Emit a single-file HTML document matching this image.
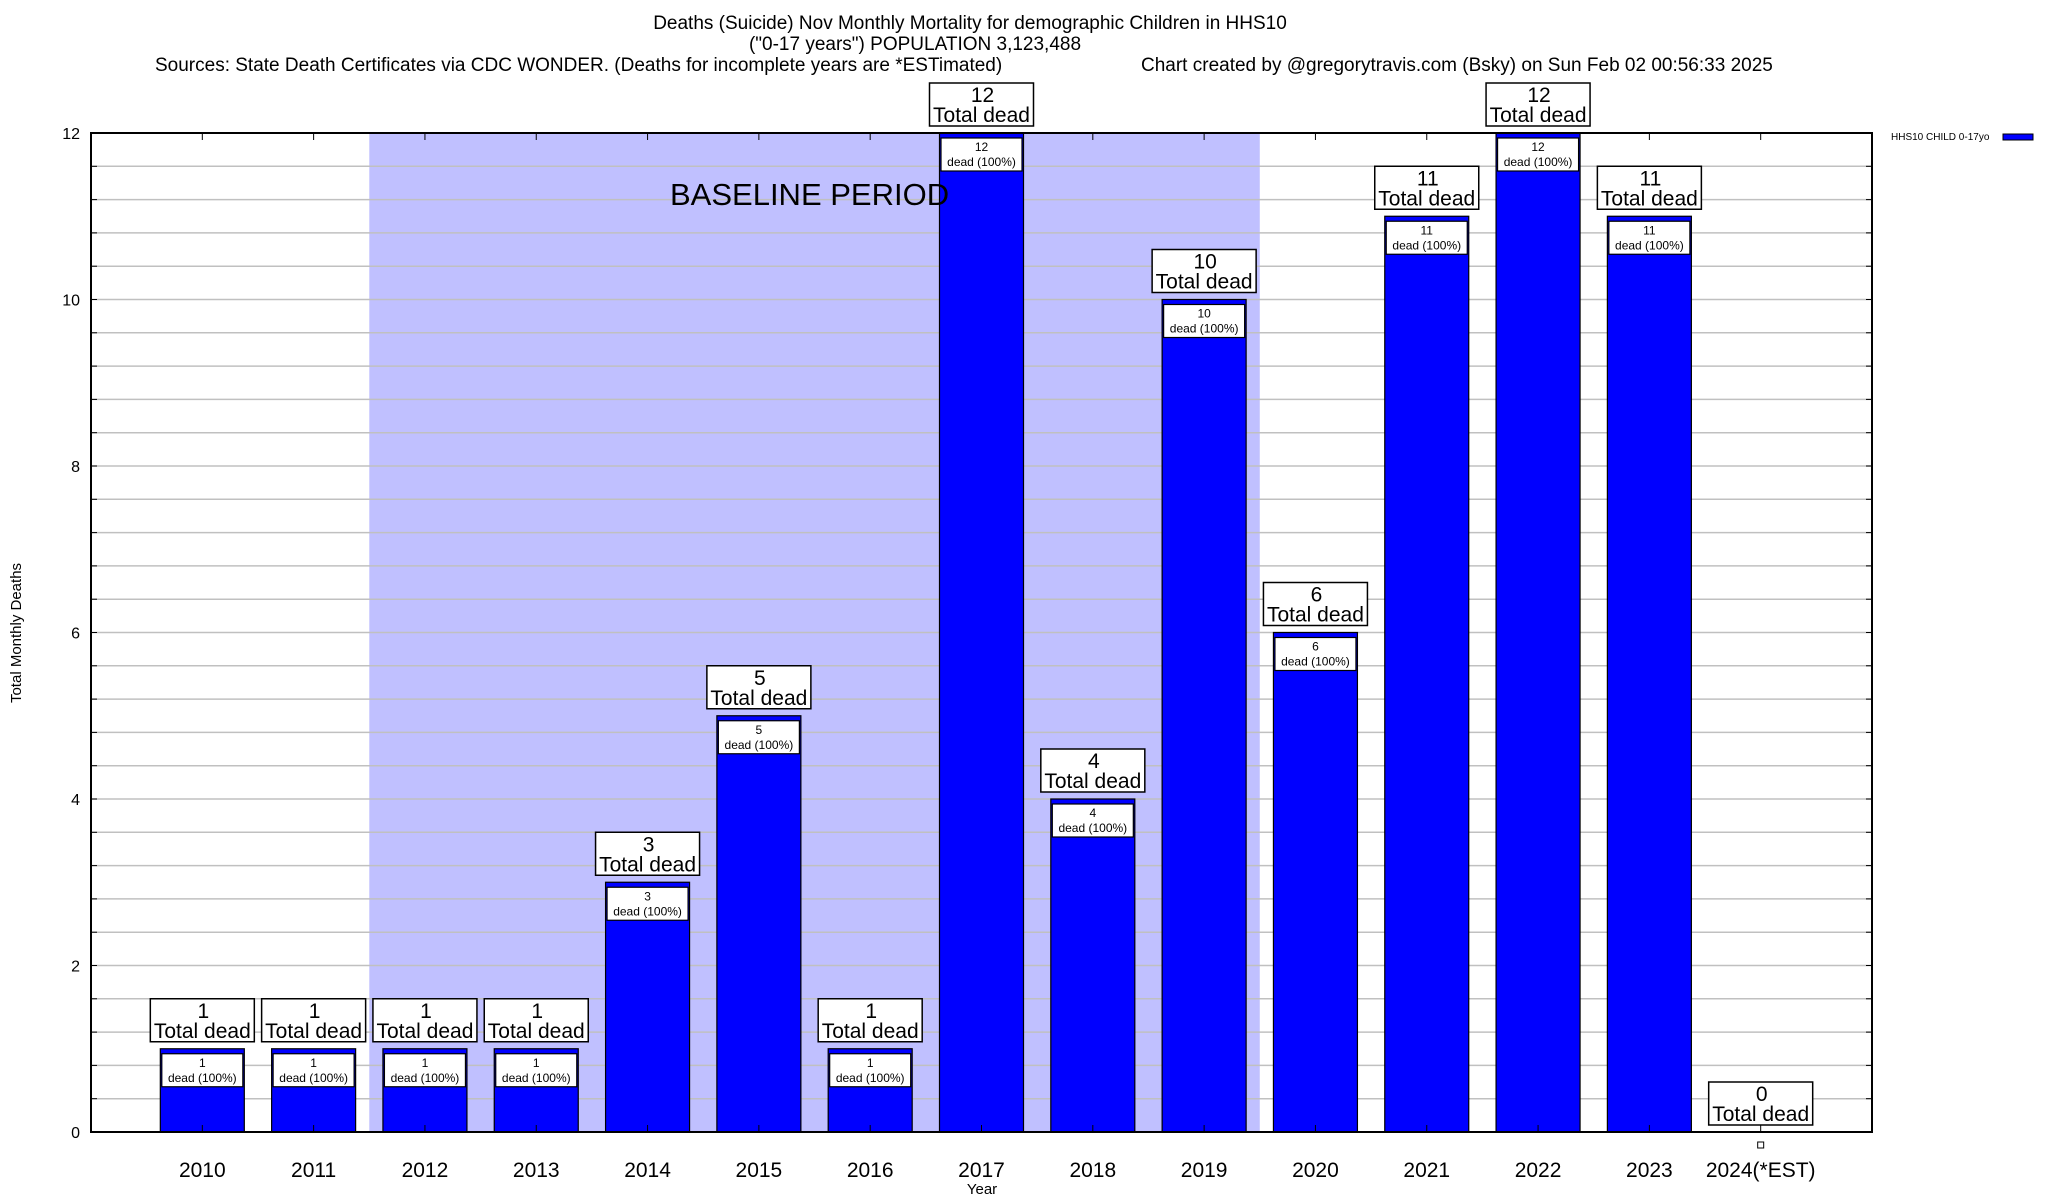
<!DOCTYPE html>
<html><head><meta charset="utf-8">
<style>
html,body{margin:0;padding:0;background:#fff;}
svg{display:block;font-family:"Liberation Sans",Arial,sans-serif;}
</style></head>
<body>
<svg id="chart" width="2048" height="1200" viewBox="0 0 2048 1200" xmlns="http://www.w3.org/2000/svg">
<g font-size="19" text-anchor="middle" fill="#000">
<text x="970" y="29">Deaths (Suicide) Nov Monthly Mortality for demographic Children in HHS10</text>
<text x="915" y="50">("0-17 years") POPULATION 3,123,488</text>
<text x="155" y="71" text-anchor="start">Sources: State Death Certificates via CDC WONDER. (Deaths for incomplete years are *ESTimated)</text>
<text x="1141" y="71" text-anchor="start">Chart created by @gregorytravis.com (Bsky) on Sun Feb 02 00:56:33 2025</text>
</g>
<g id="plot"></g>
</svg>
<script>
const categories = ["2010","2011","2012","2013","2014","2015","2016","2017","2018","2019","2020","2021","2022","2023","2024(*EST)"];
const deaths = [1,1,1,1,3,5,1,12,4,10,6,11,12,11,0];
const yTicks = [0,2,4,6,8,10,12];
const baselineStart = 2; // index of 2012
const baselineEnd = 9;   // index of 2019

const L=91,R=1872,T=133,B=1132;
const slot=(R-L)/(categories.length+1);
const xs=i=>L+slot*(i+1);
const ys=v=>B-(B-T)*v/12;
const NS="http://www.w3.org/2000/svg";
const plot=document.getElementById('plot');
function mk(tag,attrs,parent,text){const e=document.createElementNS(NS,tag);for(const k in attrs)e.setAttribute(k,attrs[k]);if(text!==undefined)e.textContent=text;(parent||plot).appendChild(e);return e;}

const shade=mk('rect',{x:xs(baselineStart)-slot/2,y:T,width:xs(baselineEnd)-xs(baselineStart)+slot,height:B-T,fill:'#c0c0ff'});



for(let k=1;k<30;k++){
  const v=k*0.4;const y=ys(v);
  const g=mk('line',{x1:L,x2:R,y1:y,y2:y,stroke:'#c0c0c0','stroke-width':1.5});
  
  
  const t1=mk('line',{x1:L,x2:L+6,y1:y,y2:y,stroke:'#000','stroke-width':1});
  
  
  const t2=mk('line',{x1:R-6,x2:R,y1:y,y2:y,stroke:'#000','stroke-width':1});
  
  
}

yTicks.forEach(v=>{
  const t=mk('text',{x:80,y:ys(v)+6,'font-size':16,'text-anchor':'end',fill:'#000'},plot,String(v));
  
  
});

const bw=84;
categories.forEach((c,i)=>{
  const v=deaths[i];const cx=xs(i);
  const tt=mk('line',{x1:cx,x2:cx,y1:T,y2:T+7,stroke:'#000','stroke-width':1});
  
  
  const yt=ys(v);
  if(v>0){
    const b=mk('rect',{x:cx-bw/2,y:yt,width:bw,height:B-yt,fill:'#0000ff',stroke:'#000','stroke-width':1.2});
    
    
    const ib=mk('rect',{x:cx-bw/2+1.5,y:yt+5,width:bw-3,height:33,fill:'#fff',stroke:'#000','stroke-width':1.2});
    
    
    const it1=mk('text',{x:cx,y:yt+18,'font-size':12,'text-anchor':'middle',fill:'#000'},plot,String(v));
    
    
    const it2=mk('text',{x:cx,y:yt+33,'font-size':12,'text-anchor':'middle',fill:'#000'},plot,'dead (100%)');
    
    
  } else {
    const m=mk('rect',{x:cx-3,y:B+10,width:6,height:6,fill:'#fff',stroke:'#000','stroke-width':1});
    
    
  }
  const bt=mk('line',{x1:cx,x2:cx,y1:B-7,y2:B,stroke:'#000','stroke-width':1});
  
  
  const by=yt-7-43;
  const tb=mk('rect',{x:cx-52,y:by,width:104,height:43,fill:'#fff',stroke:'#000','stroke-width':1.5});
  
  
  const tv=mk('text',{x:cx+1,y:by+19,'font-size':21,'text-anchor':'middle',fill:'#000'},plot,String(v));
  
  
  const tl=mk('text',{x:cx,y:by+39,'font-size':21,'text-anchor':'middle',fill:'#000'},plot,'Total dead');
  
  
  const xl=mk('text',{x:cx,y:1177,'font-size':21,'text-anchor':'middle',fill:'#000'},plot,c);
  
  
});

const bl=mk('text',{x:670,y:205,'font-size':31,fill:'#000'},plot,'BASELINE PERIOD');



const fr=mk('rect',{x:L,y:T,width:R-L,height:B-T,fill:'none',stroke:'#000','stroke-width':2});



const xt=mk('text',{x:982,y:1194,'font-size':15,'text-anchor':'middle',fill:'#000'},plot,'Year');


const yt=mk('text',{x:0,y:0,'font-size':15,'text-anchor':'middle',fill:'#000',transform:'translate(21,633) rotate(-90)'},plot,'Total Monthly Deaths');



const lg=mk('text',{x:1891,y:140,'font-size':10,fill:'#000'},plot,'HHS10 CHILD 0-17yo');


const ls=mk('rect',{x:2003,y:134,width:30,height:6,fill:'#0000ff',stroke:'#000','stroke-width':1});


</script>
</body></html>
